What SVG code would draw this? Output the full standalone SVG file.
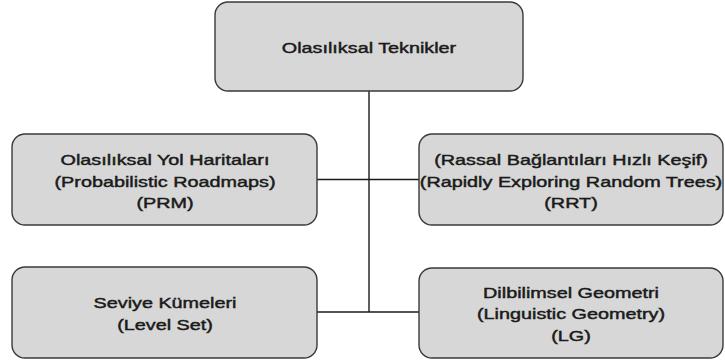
<svg xmlns="http://www.w3.org/2000/svg" width="725" height="363" viewBox="0 0 725 363">
<style>
.box{fill:#d7d7d7;stroke:#3a3a3a;stroke-width:1.4}
.conn{stroke:#1a1a1a;stroke-width:1.4;fill:none}
text{font-family:"Liberation Sans",Arial,sans-serif;font-size:15px;fill:#1a1a1a;stroke:#1a1a1a;stroke-width:0.45;text-anchor:middle}
</style>
<rect width="725" height="363" fill="#ffffff"/>
<g id="connectors">
<line class="conn" x1="369" y1="91" x2="369" y2="312"/>
<line class="conn" x1="317" y1="179.5" x2="419" y2="179.5"/>
<line class="conn" x1="317" y1="312" x2="419" y2="312"/>
</g>
<g id="n-root">
<rect class="box" x="215" y="2" width="308" height="89" rx="13"/>
<g transform="translate(369 0) scale(1.32 1)"><text x="0" y="53.5">Olasılıksal Teknikler</text></g>
</g>
<g id="n-prm">
<rect class="box" x="12" y="134" width="305" height="91" rx="13"/>
<g transform="translate(165 0) scale(1.32 1)">
<text x="0" y="165.5">Olasılıksal Yol Haritaları</text>
<text x="0" y="187">(Probabilistic Roadmaps)</text>
<text x="0" y="208.5">(PRM)</text>
</g>
</g>
<g id="n-rrt">
<rect class="box" x="419" y="134" width="304" height="91" rx="13"/>
<g transform="translate(571 0) scale(1.32 1)">
<text x="0" y="165.5">(Rassal Bağlantıları Hızlı Keşif)</text>
<text x="0" y="187">(Rapidly Exploring Random Trees)</text>
<text x="0" y="208.5">(RRT)</text>
</g>
</g>
<g id="n-levelset">
<rect class="box" x="12" y="267" width="305" height="91" rx="13"/>
<g transform="translate(165 0) scale(1.32 1)">
<text x="0" y="308.5">Seviye Kümeleri</text>
<text x="0" y="330">(Level Set)</text>
</g>
</g>
<g id="n-lg">
<rect class="box" x="419" y="268" width="304" height="90" rx="13"/>
<g transform="translate(571 0) scale(1.32 1)">
<text x="0" y="298">Dilbilimsel Geometri</text>
<text x="0" y="319.5">(Linguistic Geometry)</text>
<text x="0" y="341">(LG)</text>
</g>
</g>
</svg>
